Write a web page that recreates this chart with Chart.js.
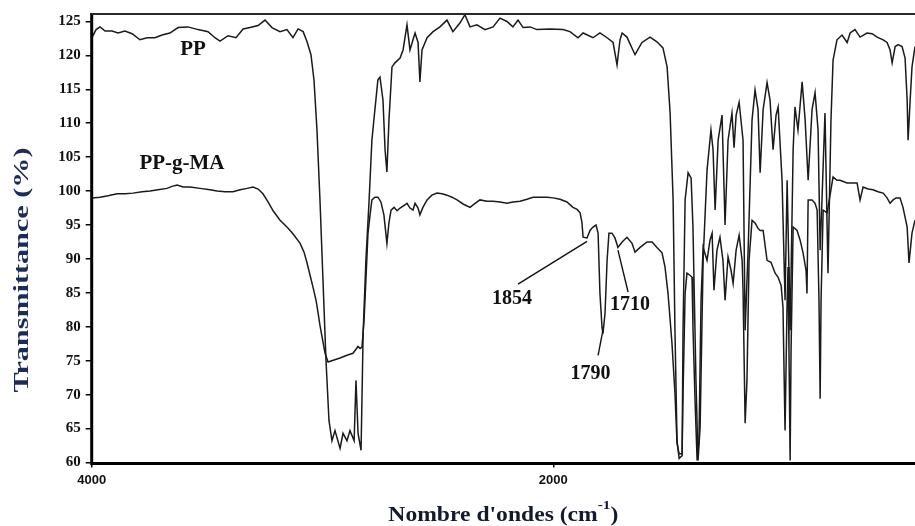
<!DOCTYPE html>
<html>
<head>
<meta charset="utf-8">
<title>FTIR PP / PP-g-MA</title>
<script src="https://cdn.jsdelivr.net/npm/chart.js@4.4.1/dist/chart.umd.min.js"></script>
<style>
  html, body { margin: 0; padding: 0; background: #fff; }
  #spectrum { display: block; }
</style>
</head>
<body>
<canvas id="spectrum" width="915" height="526"></canvas>
<script>
// PP spectrum: wavenumber (cm-1) and transmittance (%)
const ppWavenumber = [3998,3981,3964,3942,3912,3886,3856,3825,3791,3760,
  3726,3695,3661,3626,3583,3539,3496,3466,3444,3409,
  3375,3344,3314,3279,3249,3219,3184,3154,3128,3106,
  3084,3067,3050,3037,3024,3011,2998,2985,2972,2959,
  2946,2924,2911,2894,2881,2863,2855,2846,2833,2824,
  2812,2798,2786,2773,2760,2751,2738,2729,2721,2712,
  2699,2686,2664,2651,2634,2621,2608,2599,2586,2578,
  2569,2547,2521,2491,2461,2435,2404,2383,2361,2331,
  2296,2261,2231,2201,2175,2153,2131,2101,2071,2014,
  1958,1928,1893,1871,1828,1798,1767,1741,1724,1711,
  1702,1681,1646,1616,1581,1551,1525,1507,1494,1481,
  1473,1464,1455,1442,1438,1429,1416,1403,1395,1382,
  1373,1364,1351,1334,1317,1308,1299,1286,1269,1256,
  1243,1226,1217,1208,1195,1178,1169,1156,1139,1126,
  1113,1104,1091,1074,1061,1048,1035,1026,1009,996,
  987,974,961,953,940,922,909,896,879,866,
  853,844,836,823,810,797,788,771,749,727,
  714,693,671,641,619,597,571,554,541,532,
  519,506,489,476,467,463,454,446,433];
const ppTransmittance = [122.7,123.8,124.2,123.6,123.6,123.3,123.6,123.2,122.3,122.6,
  122.6,123.0,123.3,124.1,124.2,123.8,123.5,122.6,122.1,122.9,
  122.6,123.9,124.1,124.4,125.2,124.1,123.5,123.8,122.6,123.9,
  123.5,122.0,120.1,116.4,109.0,98.7,86.9,75.1,66.2,63.2,
  64.7,62.1,64.3,63.2,64.7,63.2,72.1,64.3,61.8,79.0,
  89.8,98.7,107.5,112.0,116.4,116.8,113.4,106.1,102.8,110.5,
  118.3,118.9,119.6,120.8,124.5,120.8,122.3,123.3,121.9,116.1,
  120.8,122.6,123.5,124.2,125.2,123.5,124.8,126.0,124.2,124.5,
  123.8,124.2,125.5,125.0,124.2,125.2,124.1,124.2,123.8,123.9,
  123.8,123.5,122.6,123.3,122.6,123.3,122.6,121.9,118.6,122.3,
  123.3,122.7,120.1,121.9,122.7,122.0,121.1,118.3,111.5,98.7,
  79.5,63.2,60.6,61.0,79.5,98.7,102.7,101.9,94.7,72.1,
  60.3,65.2,89.8,103.1,109.0,106.1,97.2,107.5,111.2,95.0,
  107.5,111.5,106.4,111.2,113.1,107.5,79.5,91.3,110.5,114.9,
  112.0,102.7,112.0,116.0,113.4,106.1,111.2,112.4,101.6,83.9,
  101.6,79.5,106.1,112.4,109.0,116.1,110.5,101.6,112.0,114.5,
  109.0,91.3,98.7,111.5,87.9,110.5,119.3,122.3,123.0,121.9,
  123.3,123.8,122.7,123.3,123.2,122.7,122.3,121.9,120.8,118.9,
  121.3,121.6,121.3,119.6,113.4,107.5,113.4,118.3,121.3];

// PP-g-MA spectrum
const pgmWavenumber = [3998,3964,3929,3890,3856,3821,3782,3747,3713,3674,
  3652,3630,3604,3574,3531,3487,3457,3422,3388,3357,
  3327,3301,3279,3258,3236,3214,3184,3154,3128,3097,
  3080,3067,3054,3041,3028,3019,3011,3002,2989,2976,
  2950,2924,2894,2868,2855,2846,2837,2829,2820,2812,
  2803,2794,2786,2773,2760,2747,2734,2721,2712,2703,
  2690,2677,2664,2651,2634,2621,2608,2599,2586,2578,
  2565,2547,2526,2504,2482,2461,2439,2417,2391,2361,
  2339,2318,2287,2261,2231,2201,2175,2144,2114,2088,
  2058,2027,2001,1971,1941,1915,1897,1884,1876,1871,
  1854,1841,1828,1815,1806,1798,1789,1785,1776,1767,
  1759,1746,1733,1720,1702,1681,1659,1646,1624,1594,
  1572,1551,1529,1516,1503,1486,1473,1464,1455,1442,
  1438,1429,1421,1408,1399,1395,1386,1377,1369,1360,
  1351,1334,1321,1312,1304,1291,1278,1265,1256,1243,
  1230,1221,1208,1195,1182,1178,1169,1161,1152,1139,
  1126,1113,1104,1091,1074,1057,1039,1026,1013,1005,
  996,987,983,979,974,970,961,944,931,918,
  905,901,896,879,866,857,849,844,840,831,
  814,801,788,771,758,727,706,684,671,658,
  636,615,593,571,554,541,528,515,498,485,
  467,459,446,433];
const pgmTransmittance = [99.0,99.1,99.3,99.6,99.6,99.7,99.9,100.0,100.2,100.4,
  100.7,100.9,100.6,100.6,100.4,100.2,100.0,99.9,99.9,100.2,
  100.4,100.6,100.3,99.6,98.4,97.1,95.7,94.7,93.7,92.3,
  91.0,89.4,87.6,85.8,83.9,82.0,80.2,78.5,76.1,74.8,
  75.1,75.4,75.8,76.1,76.7,77.1,76.8,77.0,81.0,86.9,
  93.8,96.5,98.7,99.1,99.1,98.4,96.5,92.3,95.4,97.2,
  97.6,97.1,97.5,97.8,98.2,97.5,97.2,98.2,97.5,96.5,
  97.6,98.7,99.4,99.7,99.6,99.4,99.1,98.7,98.1,97.6,
  98.2,98.7,98.5,98.5,98.4,98.2,98.4,98.5,98.8,99.1,
  99.1,99.1,99.0,98.8,98.4,97.6,97.3,96.8,95.4,93.2,
  93.1,94.2,94.7,95.0,93.8,84.9,79.9,79.0,82.0,89.8,
  93.8,93.8,93.1,91.7,92.5,93.2,92.3,91.0,91.7,92.5,
  92.5,91.7,90.9,88.8,84.9,77.6,70.2,62.8,61.3,61.3,
  70.2,84.9,87.9,87.6,87.3,79.9,69.2,60.3,63.2,83.9,
  91.7,89.8,92.8,93.8,85.4,91.3,93.2,89.8,83.9,90.3,
  88.3,86.4,91.3,93.5,89.8,85.4,65.8,72.1,89.8,95.7,
  95.3,94.5,94.2,94.2,89.8,89.5,87.9,87.3,86.1,82.9,
  64.7,83.9,88.8,76.5,60.3,76.5,94.7,94.2,92.8,90.9,
  88.3,84.9,98.7,98.7,98.2,97.2,83.9,69.4,83.9,97.2,
  96.8,99.4,102.1,101.6,101.6,101.2,101.2,101.2,98.7,100.6,
  100.3,100.2,99.9,99.7,99.0,98.2,98.7,99.0,99.0,97.6,
  94.7,89.4,93.8,95.7];

const xTickValues = [4000, 2000];
const yTickValues = [60, 65, 70, 75, 80, 85, 90, 95, 100, 105, 110, 115, 120, 125];

// curve names, anchored in data units
const seriesNames = ['PP', 'PP-g-MA'];
const seriesNameAt = [[3561, 120.8], [3609, 104.1]];

// carbonyl bands marked on PP-g-MA: label anchor, leader start, leader end
const bandLabels = ['1854', '1790', '1710'];
const bandLabelAt = [[2179, 84.1], [1839, 73.0], [1668, 83.3]];
const bandLeaderFrom = [[2153, 86.3], [1806, 75.8], [1676, 85.1]];
const bandLeaderTo = [[1854, 92.6], [1785, 79.5], [1720, 91.3]];

const SERIF = '"Liberation Serif", "Times New Roman", serif';
const SANS = '"Liberation Sans", Arial, sans-serif';

function toPoints(xs, ys) {
  const n = Math.min(xs.length, ys.length);
  const pts = [];
  for (let i = 0; i < n; i++) pts.push({ x: xs[i], y: ys[i] });
  return pts;
}

const decorations = {
  id: 'decorations',
  afterDraw(chart) {
    const { ctx, chartArea: a, scales: { x, y } } = chart;
    ctx.save();

    // frame: heavy left/bottom axes, lighter top rule
    ctx.strokeStyle = '#000';
    ctx.lineWidth = 3;
    ctx.beginPath();
    ctx.moveTo(a.left, a.top - 1);
    ctx.lineTo(a.left, a.bottom + 1);
    ctx.lineTo(a.right, a.bottom + 1);
    ctx.stroke();
    ctx.strokeStyle = '#2a2a2a';
    ctx.lineWidth = 2;
    ctx.beginPath();
    ctx.moveTo(a.left, a.top);
    ctx.lineTo(a.right, a.top);
    ctx.stroke();

    // leader lines for the marked bands
    ctx.strokeStyle = '#111';
    ctx.lineWidth = 1.4;
    bandLeaderFrom.forEach((p, i) => {
      const q = bandLeaderTo[i];
      ctx.beginPath();
      ctx.moveTo(x.getPixelForValue(p[0]), y.getPixelForValue(p[1]));
      ctx.lineTo(x.getPixelForValue(q[0]), y.getPixelForValue(q[1]));
      ctx.stroke();
    });

    ctx.fillStyle = '#111';
    ctx.textAlign = 'center';
    ctx.textBaseline = 'middle';
    ctx.font = 'bold 20px ' + SERIF;
    bandLabels.forEach((t, i) => {
      ctx.fillText(t, x.getPixelForValue(bandLabelAt[i][0]), y.getPixelForValue(bandLabelAt[i][1]));
    });
    ctx.font = 'bold 21px ' + SERIF;
    seriesNames.forEach((t, i) => {
      ctx.fillText(t, x.getPixelForValue(seriesNameAt[i][0]), y.getPixelForValue(seriesNameAt[i][1]));
    });

    // x title with superscript, stretched to the printed width
    const main = "Nombre d'ondes (cm";
    ctx.font = 'bold 20px ' + SERIF;
    const w1 = ctx.measureText(main).width;
    const w3 = ctx.measureText(')').width;
    ctx.font = 'bold 13px ' + SERIF;
    const w2 = ctx.measureText('-1').width;
    const total = w1 + w2 + w3;
    ctx.save();
    ctx.translate((a.left + a.right) / 2, 521);
    ctx.scale(230 / total, 1);
    ctx.textAlign = 'left';
    ctx.textBaseline = 'alphabetic';
    ctx.fillStyle = '#141a2e';
    ctx.font = 'bold 20px ' + SERIF;
    ctx.fillText(main, -total / 2, 0);
    ctx.font = 'bold 13px ' + SERIF;
    ctx.fillText('-1', -total / 2 + w1, -12);
    ctx.font = 'bold 20px ' + SERIF;
    ctx.fillText(')', -total / 2 + w1 + w2, 0);
    ctx.restore();

    // y title
    ctx.save();
    ctx.font = 'bold 22px ' + SERIF;
    const yt = 'Transmittance (%)';
    const wy = ctx.measureText(yt).width;
    ctx.translate(22, 270);
    ctx.rotate(-Math.PI / 2);
    ctx.scale(245 / wy, 1);
    ctx.fillStyle = '#1c2c58';
    ctx.textAlign = 'center';
    ctx.textBaseline = 'middle';
    ctx.fillText(yt, 0, 0);
    ctx.restore();

    ctx.restore();
  }
};

new Chart(document.getElementById('spectrum'), {
  type: 'line',
  data: {
    datasets: [
      { label: 'PP', data: toPoints(ppWavenumber, ppTransmittance),
        borderColor: '#1a1a1a', borderWidth: 1.5, pointRadius: 0, tension: 0, fill: false },
      { label: 'PP-g-MA', data: toPoints(pgmWavenumber, pgmTransmittance),
        borderColor: '#1a1a1a', borderWidth: 1.5, pointRadius: 0, tension: 0, fill: false }
    ]
  },
  options: {
    responsive: false,
    animation: false,
    devicePixelRatio: 1,
    layout: { padding: { top: 14, right: 0, left: 0, bottom: 0 } },
    plugins: { legend: { display: false }, tooltip: { enabled: false } },
    scales: {
      x: {
        type: 'linear',
        reverse: true,
        min: 433,
        max: 4000,
        afterBuildTicks: s => { s.ticks = xTickValues.map(v => ({ value: v })); },
        afterFit: s => { s.height = 63.5; },
        border: { display: false },
        grid: { drawOnChartArea: false, drawTicks: true, tickLength: 5, color: '#000', lineWidth: 1.5 },
        ticks: {
          autoSkip: false, maxRotation: 0, padding: 5, color: '#111',
          font: { family: SANS, size: 13, weight: 'bold' },
          callback: v => String(v)
        }
      },
      y: {
        min: 60,
        max: 126.1,
        afterBuildTicks: s => { s.ticks = yTickValues.map(v => ({ value: v })); },
        afterFit: s => { s.width = 91.7; },
        border: { display: false },
        grid: { drawOnChartArea: false, drawTicks: true, tickLength: 6, color: '#000', lineWidth: 1.5 },
        ticks: {
          autoSkip: false, padding: 5, color: '#111',
          font: { family: SERIF, size: 15, weight: 'bold' },
          callback: v => String(v)
        }
      }
    }
  },
  plugins: [decorations]
});
</script>
</body>
</html>
